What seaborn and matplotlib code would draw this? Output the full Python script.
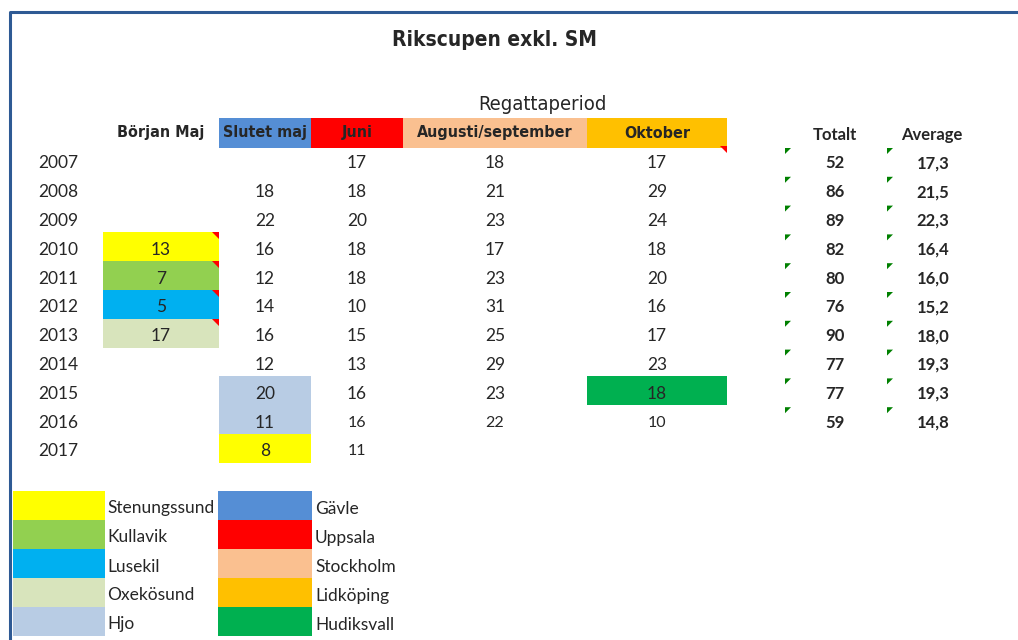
import numpy as np
import pandas as pd
import seaborn as sns
import matplotlib.pyplot as plt
from matplotlib import font_manager

# Table data
years = [2007, 2008, 2009, 2010, 2011, 2012, 2013, 2014, 2015, 2016, 2017]
periods = ["Början Maj", "Slutet maj", "Juni", "Augusti/september", "Oktober"]
borjan_maj = [None, None, None, 13, 7, 5, 17, None, None, None, None]
slutet_maj = [None, 18, 22, 16, 12, 14, 16, 12, 20, 11, 8]
juni = [17, 18, 20, 18, 18, 10, 15, 13, 16, 16, 11]
aug_sep = [18, 21, 23, 17, 23, 31, 25, 29, 23, 22, None]
oktober = [17, 29, 24, 18, 20, 16, 17, 23, 18, 10, None]
totalt = [52, 86, 89, 82, 80, 76, 90, 77, 77, 59]
average = ["17,3", "21,5", "22,3", "16,4", "16,0", "15,2", "18,0", "19,3", "19,3", "14,8"]

# Host city colours
cities_left = ["Stenungssund", "Kullavik", "Lusekil", "Oxekösund", "Hjo"]
cities_right = ["Gävle", "Uppsala", "Stockholm", "Lidköping", "Hudiksvall"]
city_colors = {
    "Stenungssund": "#FFFF00", "Kullavik": "#92D050", "Lusekil": "#00B0F0",
    "Oxekösund": "#D8E4BC", "Hjo": "#B8CCE4", "Gävle": "#558ED5",
    "Uppsala": "#FF0000", "Stockholm": "#FAC090", "Lidköping": "#FFC000",
    "Hudiksvall": "#00B050",
}
header_city = {"Slutet maj": "Gävle", "Juni": "Uppsala",
               "Augusti/september": "Stockholm", "Oktober": "Lidköping"}
# (year, period) -> city for the highlighted cells
cell_city = {
    (2010, "Början Maj"): "Stenungssund", (2011, "Början Maj"): "Kullavik",
    (2012, "Början Maj"): "Lusekil", (2013, "Början Maj"): "Oxekösund",
    (2015, "Slutet maj"): "Hjo", (2016, "Slutet maj"): "Hjo",
    (2017, "Slutet maj"): "Stenungssund", (2015, "Oktober"): "Hudiksvall",
}
comments = [(2010, "Början Maj"), (2011, "Början Maj"), (2012, "Början Maj"),
            (2013, "Början Maj"), (2007, "Oktober")]

df = pd.DataFrame({"Början Maj": borjan_maj, "Slutet maj": slutet_maj, "Juni": juni,
                   "Augusti/september": aug_sep, "Oktober": oktober}, index=years)

sns.set_theme(style="white")
names = {f.name for f in font_manager.fontManager.ttflist}
narrow = "Liberation Sans Narrow" if "Liberation Sans Narrow" in names else "DejaVu Sans"
narrow_kw = dict(family=[narrow, "DejaVu Sans"])
if narrow == "DejaVu Sans":
    narrow_kw["fontstretch"] = "condensed"
plt.rcParams["font.family"] = ["Lato", "DejaVu Sans"]

fig = plt.figure(figsize=(10.18, 6.4), dpi=100)
ax = fig.add_axes([0, 0, 1, 1])
ax.set_xlim(0, 1018)
ax.set_ylim(640, 0)
ax.axis("off")

# layout (pixels)
col_edges = [103, 219, 311, 403, 587, 727]
row_top0, row_h = 146, 28.8
head_top, head_bot = 118, 148

# frame
ax.plot([10, 10, 1018], [640, 12, 12], color="#2E5A94", lw=2.2, solid_capstyle="butt")

ax.text(495, 40, "Rikscupen exkl. SM", ha="center", va="center", fontsize=15,
        fontweight="bold", **narrow_kw)
ax.text(542, 104, "Regattaperiod", ha="center", va="center", fontsize=14.5, **narrow_kw)

# header row
for j, p in enumerate(periods):
    x0, x1 = col_edges[j], col_edges[j + 1]
    if p in header_city:
        ax.bar(x0, head_bot - head_top, width=x1 - x0, bottom=head_top, align="edge",
               color=city_colors[header_city[p]], lw=0)
    ax.text((x0 + x1) / 2, 133, p, ha="center", va="center", fontsize=11.5,
            fontweight="bold", **narrow_kw)

ax.text(835, 135, "Totalt", ha="center", va="center", fontsize=12, fontweight="bold")
ax.text(932, 135, "Average", ha="center", va="center", fontsize=12, fontweight="bold")

# body
for i, yr in enumerate(years):
    top = row_top0 + i * row_h
    cy = top + row_h / 2 + 3
    ax.text(38, cy, str(yr), ha="left", va="center", fontsize=12.5)
    for j, p in enumerate(periods):
        x0, x1 = col_edges[j], col_edges[j + 1]
        if (yr, p) in cell_city:
            ax.bar(x0, row_h, width=x1 - x0, bottom=top, align="edge",
                   color=city_colors[cell_city[(yr, p)]], lw=0)
        v = df.loc[yr, p]
        if pd.notna(v):
            small = yr >= 2016 and p in ("Juni", "Augusti/september", "Oktober")
            ax.text((x0 + x1) / 2, cy, str(int(v)), ha="center", va="center",
                    fontsize=11.5 if small else 12.5)
        if (yr, p) in comments:
            ax.fill([x1 - 7, x1, x1], [top, top, top + 7], color="#FF0000", lw=0)
    if i < len(totalt):
        for gx in (785, 887):
            ax.fill([gx, gx + 6, gx], [top + 2, top + 2, top + 8], color="#008000", lw=0)
        ax.text(835, cy, str(totalt[i]), ha="center", va="center", fontsize=12,
                fontweight="bold")
        ax.text(933, cy, average[i], ha="center", va="center", fontsize=12,
                fontweight="bold")

# legend
leg_top, leg_h = 491, 29
for k, (cl, cr) in enumerate(zip(cities_left, cities_right)):
    top = leg_top + k * leg_h
    ax.bar(13, leg_h, width=92, bottom=top, align="edge", color=city_colors[cl], lw=0)
    ax.bar(218, leg_h, width=94, bottom=top, align="edge", color=city_colors[cr], lw=0)
    ax.text(107, top + leg_h / 2 + 3, cl, ha="left", va="center", fontsize=12.5)
    ax.text(315, top + leg_h / 2 + 3, cr, ha="left", va="center", fontsize=12.5)

fig.savefig("out.png", dpi=100, facecolor="white")
plt.close(fig)
